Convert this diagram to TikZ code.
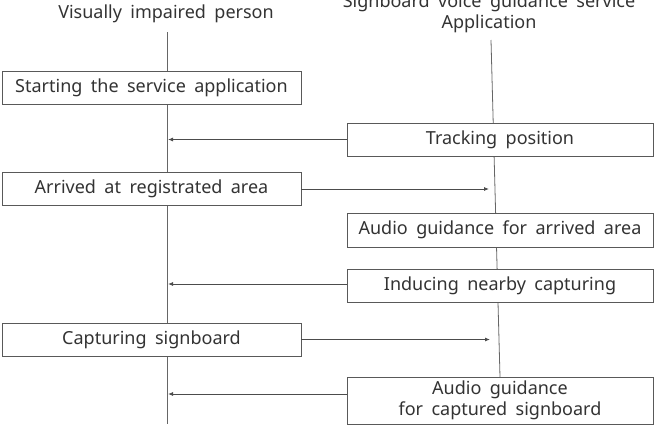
\documentclass[tikz,border=0pt]{standalone}
\usepackage{fontspec}
\setmainfont[WordSpace=1.8]{Noto Sans}
\usetikzlibrary{arrows.meta}
\begin{document}
\begin{tikzpicture}[x=1pt,y=-1pt,
  txt/.style={font=\fontsize{18}{21}\selectfont, text=black!80, inner sep=0pt},
  box/.style={txt, draw=black!65, line width=0.8pt, fill=white, align=center},
  lbox/.style={box, minimum width=299pt, minimum height=33pt},
  rbox/.style={box, minimum width=306pt, minimum height=33pt},
  msg/.style={draw=black!70, line width=0.8pt, -{Latex[length=5pt,width=4pt]}},
  life/.style={draw=black!60, line width=0.8pt}]
\useasboundingbox (0,0) rectangle (659,429);
% titles
\node[txt, anchor=base] (person) at (166,18) {Visually impaired person};
\node[txt, anchor=base, align=center] (app) at (489,28) {Signboard voice guidance service\\Application};
% lifelines
\coordinate (L0) at (167,32);
\coordinate (L1) at (167,424);
\coordinate (R0) at (491,40);
\coordinate (R1) at (500,377);
\draw[life] (L0) -- (L1);
\draw[life] (R0) -- (R1);
% boxes
\node[lbox] (start) at (151.5,87.5) {Starting the service application};
\node[rbox] (track) at (500,139.5) {Tracking position};
\node[lbox] (arrived) at (151.5,189) {Arrived at registrated area};
\node[rbox, minimum height=34pt] (audio1) at (500,230) {Audio guidance for arrived area};
\node[rbox] (induce) at (500,285.5) {Inducing nearby capturing};
\node[lbox] (capture) at (151.5,339.5) {Capturing signboard};
\node[rbox, minimum height=47pt] (audio2) at (500,400.5) {Audio guidance\\for captured signboard};
% message end points on lifelines
\coordinate (m1) at (168,139.5);
\coordinate (m2) at (489,189);
\coordinate (m3) at (168,284);
\coordinate (m4) at (490,339.5);
\coordinate (m5a) at (347,394);
\coordinate (m5) at (168,394);
% messages
\draw[msg] (track.west) -- (m1);
\draw[msg] (arrived.east) -- (m2);
\draw[msg] (induce.west |- m3) -- (m3);
\draw[msg] (capture.east) -- (m4);
\draw[msg] (m5a) -- (m5);
\end{tikzpicture}
\end{document}
